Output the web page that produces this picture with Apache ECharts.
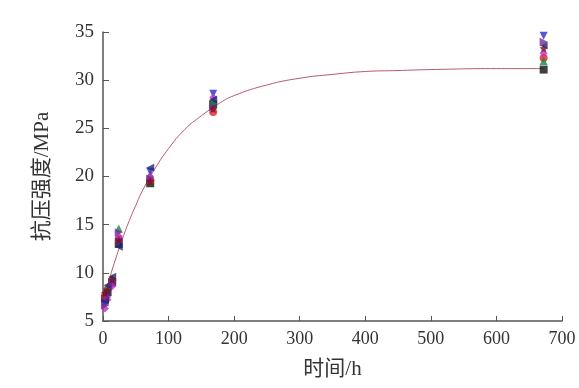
<!DOCTYPE html>
<html><head><meta charset="utf-8">
<script src="https://cdn.jsdelivr.net/npm/echarts@6/dist/echarts.min.js"></script>
<style>html,body{margin:0;padding:0;background:#fff}#c{width:579px;height:388px}</style>
</head><body><div id="c"></div>
<script>
const times = [3, 7, 14, 24, 72, 168, 672];
const sBlackSquare = [7.3, 8.0, 9.0, 13.0, 19.3, 27.5, 31.1];
const sRedCircle = [7.6, 8.3, 9.2, 13.5, 19.6, 26.7, 32.3];
const sGreenTriangle = [7.0, 8.5, 9.4, 14.6, 20.2, 27.8, 32.0];
const sBlueTriDown = [6.8, 7.8, 8.8, 13.2, 20.5, 28.6, 34.6];
const sMagentaDiamond = [6.3, 7.2, 8.6, 13.8, 20.0, 28.2, 32.8];
const sNavyLeft = [7.1, 8.7, 9.6, 12.7, 20.9, 28.0, 33.6];
const sPurpleRight = [6.6, 7.5, 9.0, 14.2, 19.8, 27.2, 34.0];
const sDarkRedStar = [7.9, 8.2, 9.3, 13.4, 19.5, 27.0, 33.3];
const curveT = [3, 10, 20, 30, 40, 50, 60, 80, 100, 125, 150, 175, 200, 250, 300, 350, 400, 450, 500, 600, 672];
const curveY = [7.6, 9.4, 11.6, 13.6, 15.4, 17.0, 18.5, 20.9, 22.9, 24.9, 26.3, 27.5, 28.4, 29.5, 30.2, 30.6, 30.9, 31.0, 31.1, 31.2, 31.2];
const xTicks = [0, 700, 100];
const yTicks = [5, 35, 5];

const FONT = "'Liberation Serif', 'Noto Sans CJK SC', serif";
const pair = (arr) => times.map((t, i) => [t, arr[i]]);
const mk = (name, data, symbol, color) => ({
  name, type: 'scatter', data: pair(data), symbol, symbolSize: 8,
  itemStyle: { color }, z: 3
});
const series = [
  {type: 'line', data: curveT.map((t, i) => [t, curveY[i]]), smooth: true, showSymbol: false,
   lineStyle: {color: '#b85a6a', width: 1}, z: 2},
  mk('a', sBlackSquare, 'rect', '#111'),
  mk('b', sRedCircle, 'circle', '#e0202a'),
  mk('c', sGreenTriangle, 'triangle', '#138a3c'),
  Object.assign(mk('d', sBlueTriDown, 'triangle', '#2a2ad0'), {symbolRotate: 180}),
  mk('e', sMagentaDiamond, 'diamond', '#c030c0'),
  Object.assign(mk('f', sNavyLeft, 'triangle', '#23237a'), {symbolRotate: 90}),
  Object.assign(mk('g', sPurpleRight, 'triangle', '#7a2a9a'), {symbolRotate: -90}),
  mk('h', sDarkRedStar, 'path://M0,-10 L2.9,-4 L9.5,-3.1 L4.8,1.5 L5.9,8.1 L0,5 L-5.9,8.1 L-4.8,1.5 L-9.5,-3.1 L-2.9,-4 Z', '#7a1020')
];
const chart = echarts.init(document.getElementById('c'), null, {renderer: 'canvas'});
chart.setOption({
  backgroundColor: '#fff',
  animation: false,
  grid: {left: 103, right: 17, top: 32, bottom: 67},
  xAxis: {
    type: 'value', min: xTicks[0], max: xTicks[1], interval: xTicks[2],
    name: '时间/h', nameLocation: 'middle', nameGap: 38,
    nameTextStyle: {fontFamily: FONT, fontSize: 21, color: '#333'},
    axisLine: {lineStyle: {color: '#555', width: 1.5}},
    axisTick: {inside: true, length: 5, lineStyle: {color: '#555'}},
    axisLabel: {fontFamily: FONT, fontSize: 18, color: '#333', margin: 9},
    splitLine: {show: false}
  },
  yAxis: {
    type: 'value', min: yTicks[0], max: yTicks[1], interval: yTicks[2],
    name: '抗压强度/MPa', nameLocation: 'middle', nameGap: 50, nameRotate: 90,
    nameTextStyle: {fontFamily: FONT, fontSize: 21, color: '#333'},
    axisLine: {show: true, lineStyle: {color: '#555', width: 1.5}},
    axisTick: {show: true, inside: true, length: 6, lineStyle: {color: '#555'}},
    axisLabel: {fontFamily: FONT, fontSize: 19, color: '#333', margin: 9},
    splitLine: {show: false}
  },
  series
});
</script></body></html>
